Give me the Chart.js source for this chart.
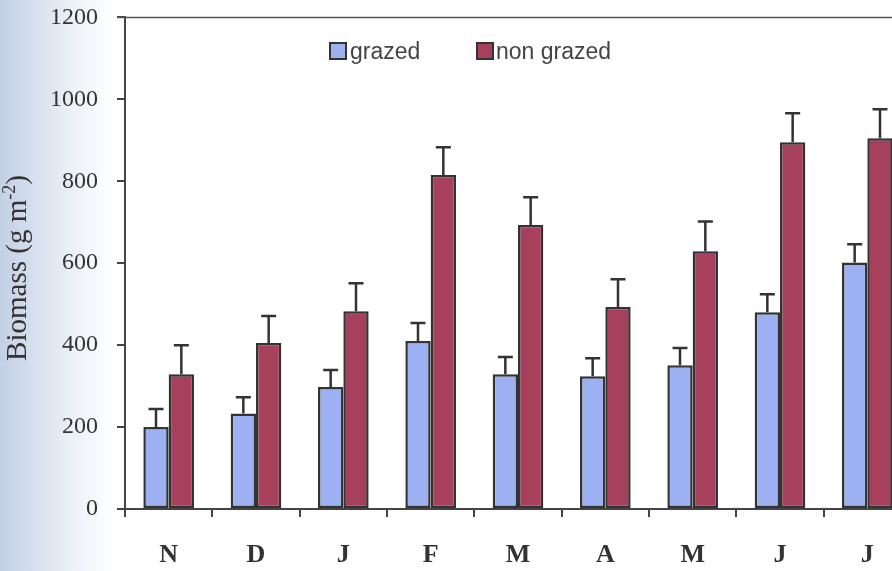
<!DOCTYPE html>
<html>
<head>
<meta charset="utf-8">
<script src="https://cdn.jsdelivr.net/npm/chart.js@4/dist/chart.umd.min.js"></script>
<style>
  html, body { margin: 0; padding: 0; overflow: hidden; width: 892px; height: 571px; }
  body { background: linear-gradient(to right, #c3d0e4 0px, #d6e0ee 35px, #eef2f8 75px, #ffffff 115px); }
  #wrap { width: 930px; height: 587px; margin-top: -16px; }
</style>
</head>
<body>
<div id="wrap"><canvas id="c" width="930" height="587"></canvas></div>
<script>
// Monthly biomass, November to July
const months = ['N', 'D', 'J', 'F', 'M', 'A', 'M', 'J', 'J'];
const grazed = [200, 233, 298, 410, 329, 324, 351, 480, 602];
const grazedSE = [44, 40, 41, 44, 42, 44, 42, 44, 44];
const nonGrazed = [329, 405, 483, 815, 693, 493, 629, 895, 905];
const nonGrazedSE = [71, 66, 68, 68, 68, 68, 73, 71, 71];
const yTicks = [0, 200, 400, 600, 800, 1000, 1200];

const INK = '#333333';
const BLUE = '#9db0f2';
const MAROON = '#a6405d';
const SERIF = '"Liberation Serif", "Times New Roman", serif';
const SHIFT = 16; // canvas sits this many px above the page top

// Upper error whiskers with caps
const errorBars = {
  id: 'errorBars',
  afterDatasetsDraw(chart) {
    const ctx = chart.ctx;
    const y = chart.scales.y;
    const errs = [grazedSE, nonGrazedSE];
    ctx.save();
    ctx.strokeStyle = INK;
    ctx.lineWidth = 2.5;
    chart.data.datasets.forEach((ds, di) => {
      const meta = chart.getDatasetMeta(di);
      meta.data.forEach((bar, i) => {
        const x = bar.x;
        const top = y.getPixelForValue(ds.data[i]);
        const end = y.getPixelForValue(ds.data[i] + errs[di][i]);
        ctx.beginPath();
        ctx.moveTo(x, top);
        ctx.lineTo(x, end);
        ctx.moveTo(x - 7.5, end);
        ctx.lineTo(x + 7.5, end);
        ctx.stroke();
      });
    });
    ctx.restore();
  }
};

// Frame line along the top, legend and rotated axis title
const decorations = {
  id: 'decorations',
  afterDraw(chart) {
    const ctx = chart.ctx;
    const a = chart.chartArea;
    ctx.save();
    ctx.strokeStyle = '#555';
    ctx.lineWidth = 1.5;
    ctx.beginPath();
    ctx.moveTo(a.left - 8, a.top);
    ctx.lineTo(a.right, a.top);
    ctx.stroke();

    ctx.translate(0, SHIFT);

    // legend
    const items = [
      { label: 'grazed', color: BLUE, bx: 330, tx: 350 },
      { label: 'non grazed', color: MAROON, bx: 477, tx: 496 }
    ];
    ctx.font = '23px "Liberation Sans", Arial, sans-serif';
    ctx.textBaseline = 'alphabetic';
    items.forEach(it => {
      ctx.fillStyle = it.color;
      ctx.fillRect(it.bx, 43, 16, 16);
      ctx.strokeStyle = INK;
      ctx.lineWidth = 2;
      ctx.strokeRect(it.bx, 43, 16, 16);
      ctx.fillStyle = '#444';
      ctx.fillText(it.label, it.tx, 59);
    });

    // y axis title with superscript
    ctx.translate(26, 268);
    ctx.rotate(-Math.PI / 2);
    ctx.fillStyle = '#333';
    ctx.textBaseline = 'alphabetic';
    const big = '29px ' + SERIF;
    const small = '18px ' + SERIF;
    const p1 = 'Biomass (g m', p2 = '-2', p3 = ')';
    ctx.font = big; const w1 = ctx.measureText(p1).width, w3 = ctx.measureText(p3).width;
    ctx.font = small; const w2 = ctx.measureText(p2).width;
    let x = -(w1 + w2 + w3) / 2;
    ctx.font = big; ctx.fillText(p1, x, 0); x += w1;
    ctx.font = small; ctx.fillText(p2, x, -11); x += w2;
    ctx.font = big; ctx.fillText(p3, x, 0);
    ctx.restore();
  }
};

new Chart(document.getElementById('c'), {
  type: 'bar',
  data: {
    labels: months,
    datasets: [
      { label: 'grazed', data: grazed, backgroundColor: BLUE, borderColor: INK, borderWidth: 2.5, borderSkipped: false },
      { label: 'non grazed', data: nonGrazed, backgroundColor: MAROON, borderColor: INK, borderWidth: 2.5, borderSkipped: false }
    ]
  },
  options: {
    responsive: false,
    animation: false,
    events: [],
    layout: { padding: { left: 0, top: 1, right: 19, bottom: 0 } },
    plugins: { legend: { display: false }, tooltip: { enabled: false } },
    datasets: { bar: { categoryPercentage: 0.58, barPercentage: 1 } },
    scales: {
      x: {
        grid: { offset: true, drawOnChartArea: false, drawTicks: true, tickLength: 8, color: '#444', lineWidth: 2 },
        border: { display: true, color: '#444', width: 2 },
        ticks: { color: '#333', padding: 23, font: { family: SERIF, size: 26, weight: 'bold' } },
        afterFit(s) { s.height = 62; }
      },
      y: {
        min: 0, max: 1200,
        afterBuildTicks(s) { s.ticks = yTicks.map(v => ({ value: v })); },
        grid: { drawOnChartArea: false, drawTicks: true, tickLength: 8, color: '#444', lineWidth: 2 },
        border: { display: true, color: '#444', width: 2 },
        ticks: { color: '#333', padding: 19, callback: v => String(v), font: { family: SERIF, size: 24 } },
        afterFit(s) { s.width = 125; }
      }
    }
  },
  plugins: [errorBars, decorations]
});
</script>
</body>
</html>
